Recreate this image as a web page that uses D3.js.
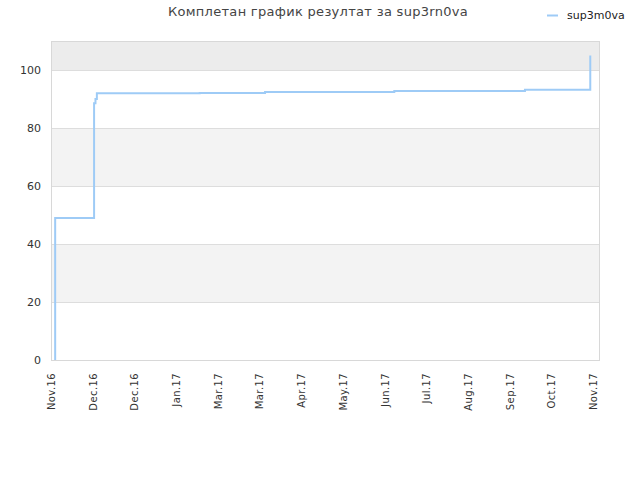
<!DOCTYPE html>
<html><head><meta charset="utf-8">
<script src="https://cdn.jsdelivr.net/npm/d3@7"></script>
<style>body{margin:0;background:#fff}svg{display:block}</style>
</head><body>
<script>
const titleText = "Комплетан график резултат за sup3rn0va";
const seriesName = "sup3m0va";
const pointDates = ["2016-11-04","2016-11-04","2016-12-02","2016-12-02","2016-12-02","2016-12-03","2016-12-04","2017-02-16","2017-04-04","2017-07-06","2017-10-08","2017-11-24","2017-11-24"];
const pointValues = [0,49,56.5,64,88.5,90,92,92.1,92.4,92.8,93.2,93.2,105];
const tickDates = ["2016-11-01","2016-12-01","2016-12-31","2017-01-30","2017-03-01","2017-03-31","2017-04-30","2017-05-30","2017-06-29","2017-07-29","2017-08-28","2017-09-27","2017-10-27","2017-11-26"];
const tickLabels = ["Nov.16","Dec.16","Dec.16","Jan.17","Mar.17","Mar.17","Apr.17","May.17","Jun.17","Jul.17","Aug.17","Sep.17","Oct.17","Nov.17"];
const yTicks = [0,20,40,60,80,100];
const bandValues = [[20,40],[60,80],[100,110]];

const W=640,H=480, L=51, R=600, T=41, B=360;
const parse = d3.utcParse("%Y-%m-%d");
const data = pointDates.map((d,i)=>({x:parse(d), y:pointValues[i]}));
const x = d3.scaleUtc().domain([parse("2016-11-01"), parse("2017-12-01")]).range([L,R]);
const y = d3.scaleLinear().domain([0,110]).range([B,T]);

const svg = d3.select("body").append("svg").attr("width",W).attr("height",H)
  .style("font-family","'DejaVu Sans', sans-serif");

svg.selectAll("rect.band").data(bandValues).enter().append("rect")
  .attr("x",L).attr("width",R-L)
  .attr("y",d=>y(d[1])).attr("height",d=>y(d[0])-y(d[1]))
  .attr("fill",d=>d[1]===110?"#ececec":"#f3f3f3");

svg.selectAll("line.grid").data(yTicks.slice(1)).enter().append("line")
  .attr("x1",L).attr("x2",R).attr("y1",d=>Math.round(y(d))+0.5).attr("y2",d=>Math.round(y(d))+0.5)
  .attr("stroke","#dddddd").attr("stroke-width",1);

svg.append("rect").attr("x",L+0.5).attr("y",T+0.5).attr("width",R-L-1).attr("height",B-T)
  .attr("fill","none").attr("stroke","#d8d8d8");

const yAxis = d3.axisLeft(y).tickValues(yTicks).tickSize(0).tickPadding(10);
const gy = svg.append("g").attr("transform",`translate(${L},0)`).call(yAxis);
gy.select(".domain").remove();
gy.selectAll("text").attr("font-size",11).attr("fill","#333").style("font-family","'DejaVu Sans', sans-serif");

const xAxis = d3.axisBottom(x).tickValues(tickDates.map(parse)).tickSize(0)
  .tickFormat((d,i)=>tickLabels[i]);
const gx = svg.append("g").attr("transform",`translate(0,${B})`).call(xAxis);
gx.select(".domain").remove();
gx.selectAll("text").attr("font-size",10).attr("fill","#333")
  .style("font-family","'DejaVu Sans', sans-serif").style("letter-spacing","0.4px")
  .attr("text-anchor","end").attr("dy","0.35em")
  .attr("transform","translate(0,13) rotate(-90)").attr("x",0).attr("y",0);

const line = d3.line().x(d=>x(d.x)).y(d=>y(d.y)).curve(d3.curveStepAfter);
svg.append("path").datum(data).attr("d",line).attr("fill","none")
  .attr("stroke","#9ecbf6").attr("stroke-width",2);

svg.append("text").attr("x",318).attr("y",16).attr("text-anchor","middle")
  .attr("font-size",13).attr("fill","#444").style("letter-spacing","0.3px").text(titleText);

svg.append("line").attr("x1",547).attr("x2",558).attr("y1",15.5).attr("y2",15.5)
  .attr("stroke","#9ecbf6").attr("stroke-width",2);
svg.append("text").attr("x",567).attr("y",19).attr("font-size",11).attr("fill","#222").text(seriesName);
</script>
</body></html>
